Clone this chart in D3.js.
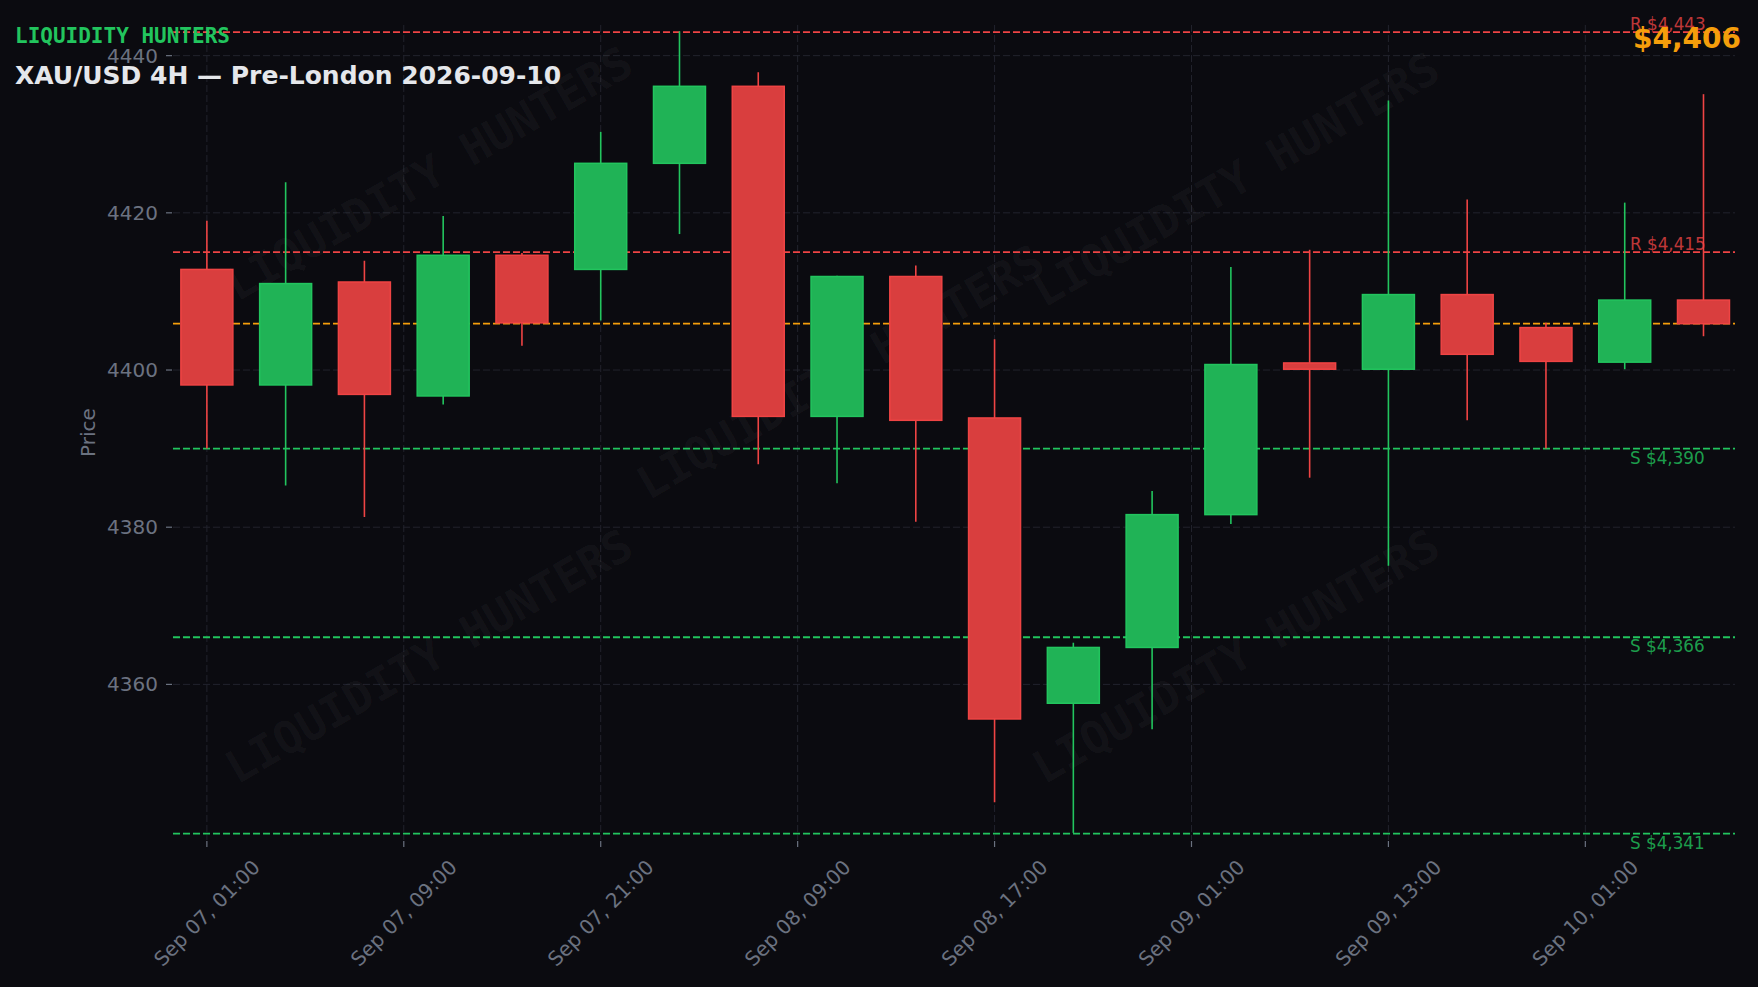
<!DOCTYPE html>
<html><head><meta charset="utf-8">
<script src="https://cdn.jsdelivr.net/npm/d3@7"></script>
<style>html,body{margin:0;padding:0;background:#0b0b10;overflow:hidden}svg{display:block}</style>
</head><body>
<svg id="chart" width="1758" height="987"></svg>
<script>
// ---- data ----
const candleOpen  = [4412.8, 4398.1, 4411.2, 4396.7, 4414.6, 4412.8, 4426.3, 4436.1, 4394.1, 4411.9, 4393.9, 4357.6, 4364.7, 4381.6, 4400.9, 4400.1, 4409.6, 4405.4, 4401.0, 4408.9];
const candleHigh  = [4419.0, 4423.9, 4413.9, 4419.6, 4414.9, 4430.3, 4443.1, 4437.9, 4412.0, 4413.3, 4403.9, 4365.3, 4384.6, 4413.1, 4415.3, 4434.3, 4421.7, 4406.0, 4421.3, 4435.1];
const candleLow   = [4390.0, 4385.3, 4381.3, 4395.6, 4403.1, 4406.3, 4417.3, 4388.0, 4385.6, 4380.7, 4345.0, 4341.1, 4354.3, 4380.4, 4386.3, 4375.1, 4393.6, 4390.0, 4400.1, 4404.3];
const candleClose = [4398.1, 4411.0, 4396.9, 4414.6, 4406.0, 4426.3, 4436.1, 4394.1, 4411.9, 4393.6, 4355.6, 4364.7, 4381.6, 4400.7, 4400.1, 4409.6, 4402.0, 4401.1, 4408.9, 4405.9];

const xTickPositions = [0, 2.5, 5, 7.5, 10, 12.5, 15, 17.5];
const xTickLabels = ["Sep 07, 01:00", "Sep 07, 09:00", "Sep 07, 21:00", "Sep 08, 09:00", "Sep 08, 17:00", "Sep 09, 01:00", "Sep 09, 13:00", "Sep 10, 01:00"];
const yTickValues = [4360, 4380, 4400, 4420, 4440];

const levelValues = [4443, 4415, 4390, 4366, 4341];
const levelKinds  = ["R", "R", "S", "S", "S"];
const currentPrice = 4405.9;

const brandText = "LIQUIDITY HUNTERS";
const titleText = "XAU/USD 4H \u2014 Pre-London 2026-09-10";
const yLabelText = "Price";

// ---- layout ----
const W = 1758, H = 987;
const plot = {left: 173, right: 1735, top: 25, bottom: 840};
const RED = "#ef4444", GREEN = "#22c55e", ORANGE = "#f59e0b", GRAY = "#6b7280";
const BG = "#0b0b10", GRID = "#22232d";

const svg = d3.select("#chart");
svg.append("rect").attr("width", W).attr("height", H).attr("fill", BG);

const x = d3.scaleLinear().domain([-0.43, 19.40]).range([plot.left, plot.right]);
const y = d3.scaleLinear().domain([4340.2, 4443.9]).range([plot.bottom, plot.top]);

const n = candleOpen.length;
const idx = d3.range(n);
const bodyW = (x(1) - x(0)) * 0.66;

// grid
const g = svg.append("g");
g.selectAll("line.hg").data(yTickValues).join("line")
  .attr("x1", plot.left).attr("x2", plot.right)
  .attr("y1", d => y(d)).attr("y2", d => y(d))
  .attr("stroke", GRID).attr("stroke-width", 1).attr("stroke-dasharray", "7,3");
g.selectAll("line.vg").data(xTickPositions).join("line")
  .attr("x1", d => x(d)).attr("x2", d => x(d))
  .attr("y1", plot.top).attr("y2", plot.bottom)
  .attr("stroke", GRID).attr("stroke-width", 1).attr("stroke-dasharray", "7,3");

// watermarks
const wmPos = [[0.244, 0.176], [0.478, 0.377], [0.703, 0.182], [0.244, 0.665], [0.703, 0.665]];
svg.append("g").selectAll("text").data(wmPos).join("text")
  .attr("transform", d => `translate(${d[0]*W},${d[1]*H}) rotate(-30)`)
  .attr("text-anchor", "middle").attr("dominant-baseline", "central")
  .attr("font-family", "'DejaVu Sans Mono', monospace").attr("font-weight", "bold")
  .attr("font-size", 45).attr("fill", "#ffffff").attr("fill-opacity", 0.045)
  .text(brandText);

// level lines
const lv = svg.append("g");
lv.selectAll("line").data(levelValues).join("line")
  .attr("x1", plot.left).attr("x2", plot.right)
  .attr("y1", d => y(d)).attr("y2", d => y(d))
  .attr("stroke", (d, i) => levelKinds[i] === "R" ? RED : GREEN)
  .attr("stroke-width", 1.8).attr("stroke-dasharray", "7,3");
lv.selectAll("text").data(levelValues).join("text")
  .attr("x", 1630)
  .attr("y", (d, i) => levelKinds[i] === "R" ? y(d) - 2 : y(d) + 15)
  .attr("font-family", "'DejaVu Sans', sans-serif").attr("font-size", 16.8)
  .attr("fill", (d, i) => levelKinds[i] === "R" ? RED : GREEN).attr("fill-opacity", 0.8)
  .text((d, i) => `${levelKinds[i]} $${d3.format(",")(d)}`);

// current price line
svg.append("line")
  .attr("x1", plot.left).attr("x2", plot.right)
  .attr("y1", y(currentPrice)).attr("y2", y(currentPrice))
  .attr("stroke", ORANGE).attr("stroke-width", 1.8).attr("stroke-dasharray", "7,3");

// candles
const cg = svg.append("g");
const col = i => candleClose[i] >= candleOpen[i] ? GREEN : RED;
cg.selectAll("line.wick").data(idx).join("line")
  .attr("x1", i => x(i)).attr("x2", i => x(i))
  .attr("y1", i => y(candleHigh[i])).attr("y2", i => y(candleLow[i]))
  .attr("stroke", col).attr("stroke-width", 1.6);
cg.selectAll("rect.body").data(idx).join("rect")
  .attr("x", i => x(i) - bodyW / 2).attr("width", bodyW)
  .attr("y", i => y(Math.max(candleOpen[i], candleClose[i])))
  .attr("height", i => Math.max(1, Math.abs(y(candleOpen[i]) - y(candleClose[i]))))
  .attr("fill", BG)
  .attr("stroke", "none");
cg.selectAll("rect.body2").data(idx).join("rect")
  .attr("x", i => x(i) - bodyW / 2).attr("width", bodyW)
  .attr("y", i => y(Math.max(candleOpen[i], candleClose[i])))
  .attr("height", i => Math.max(1, Math.abs(y(candleOpen[i]) - y(candleClose[i]))))
  .attr("fill", col).attr("fill-opacity", 0.9)
  .attr("stroke", col).attr("stroke-width", 1.5);

// y axis ticks
const ya = svg.append("g");
ya.selectAll("line").data(yTickValues).join("line")
  .attr("x1", plot.left - 7).attr("x2", plot.left - 1)
  .attr("y1", d => y(d)).attr("y2", d => y(d))
  .attr("stroke", GRAY).attr("stroke-width", 1.2);
ya.selectAll("text").data(yTickValues).join("text")
  .attr("x", plot.left - 15).attr("y", d => y(d))
  .attr("text-anchor", "end").attr("dominant-baseline", "central")
  .attr("font-family", "'DejaVu Sans', sans-serif").attr("font-size", 20)
  .attr("fill", GRAY).text(d => d);

svg.append("text")
  .attr("transform", `translate(95,${(plot.top + plot.bottom) / 2}) rotate(-90)`)
  .attr("text-anchor", "middle")
  .attr("font-family", "'DejaVu Sans', sans-serif").attr("font-size", 20)
  .attr("fill", GRAY).text(yLabelText);

// x axis ticks
const xa = svg.append("g");
xa.selectAll("line").data(xTickPositions).join("line")
  .attr("x1", d => x(d)).attr("x2", d => x(d))
  .attr("y1", plot.bottom + 1).attr("y2", plot.bottom + 7)
  .attr("stroke", GRAY).attr("stroke-width", 1.2);
xa.selectAll("text").data(xTickPositions).join("text")
  .attr("transform", d => `translate(${x(d)},913) rotate(-45)`)
  .attr("text-anchor", "middle").attr("dominant-baseline", "central")
  .attr("font-family", "'DejaVu Sans', sans-serif").attr("font-size", 20)
  .attr("fill", GRAY).text((d, i) => xTickLabels[i]);

// header texts
svg.append("text").attr("x", 15).attr("y", 43)
  .attr("font-family", "'DejaVu Sans Mono', monospace").attr("font-weight", "bold")
  .attr("font-size", 21).attr("fill", GREEN).text(brandText);
svg.append("text").attr("x", 15).attr("y", 84)
  .attr("font-family", "'DejaVu Sans', sans-serif").attr("font-weight", "bold")
  .attr("font-size", 25).attr("fill", "#e5e7eb").text(titleText);
svg.append("text").attr("x", 1741).attr("y", 48)
  .attr("text-anchor", "end")
  .attr("font-family", "'DejaVu Sans', sans-serif").attr("font-weight", "bold")
  .attr("font-size", 28).attr("fill", ORANGE).text("$" + d3.format(",")(Math.round(currentPrice)));
</script>
</body></html>
